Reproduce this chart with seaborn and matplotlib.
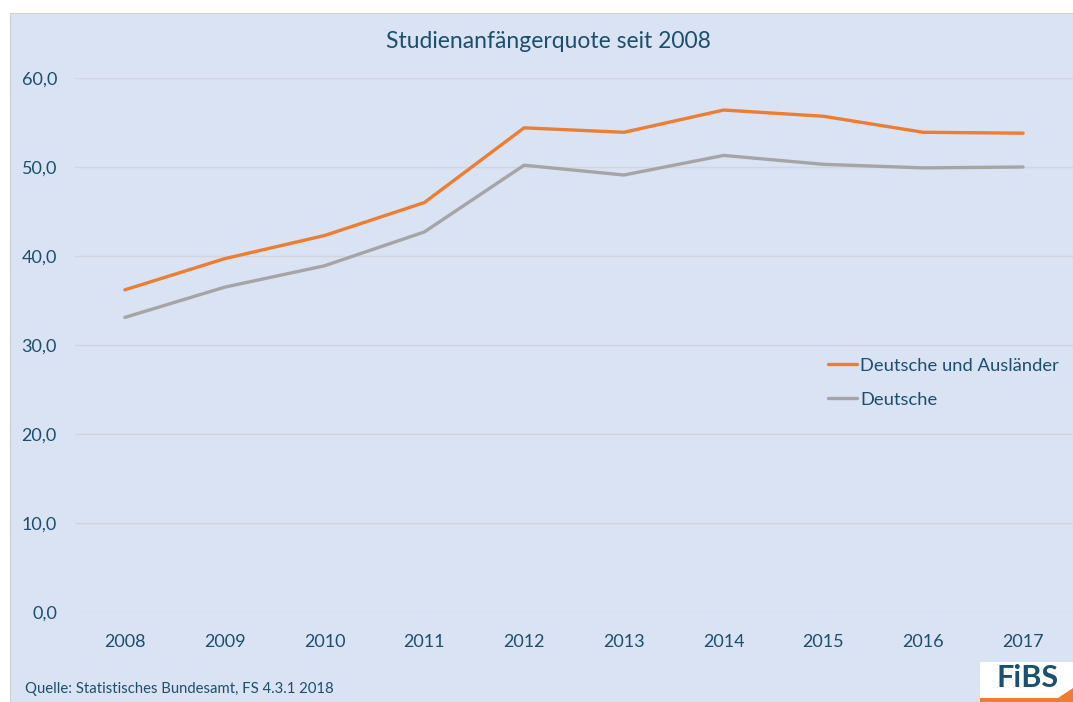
import matplotlib
matplotlib.use("Agg")
import matplotlib.pyplot as plt
import seaborn as sns
import pandas as pd
from matplotlib.ticker import FuncFormatter
from matplotlib.patches import Rectangle, Polygon

years = ["2008", "2009", "2010", "2011", "2012", "2013", "2014", "2015", "2016", "2017"]
deutsche_und_auslaender = [36.2, 39.7, 42.3, 46.0, 54.4, 53.9, 56.4, 55.7, 53.9, 53.8]
deutsche = [33.1, 36.5, 38.9, 42.7, 50.2, 49.1, 51.3, 50.3, 49.9, 50.0]
series_names = ["Deutsche und Ausländer", "Deutsche"]
yticks = [0, 10, 20, 30, 40, 50, 60]

title = "Studienanfängerquote seit 2008"
source = "Quelle: Statistisches Bundesamt, FS 4.3.1 2018"

df = pd.DataFrame({
    "Jahr": years * 2,
    "Quote": deutsche_und_auslaender + deutsche,
    "Serie": [series_names[0]] * len(years) + [series_names[1]] * len(years),
})

sns.set_theme(style="white")
plt.rcParams["font.family"] = ["Lato", "DejaVu Sans"]

text_col = "#1C4E6E"
bg_col = "#DAE3F3"

fig = plt.figure(figsize=(10.73, 7.02), dpi=100)
fig.patch.set_facecolor("white")
W, H = 1073, 702
# background panel
fig.patches.append(Rectangle((10 / W, 0), 1 - 10 / W, 1 - 13 / H, transform=fig.transFigure,
                             facecolor=bg_col, edgecolor="#D0D0D0", linewidth=0.8, zorder=-10))

ax = fig.add_axes([75 / W, (H - 612) / H, (1073 - 75) / W, (612 - 78) / H])
ax.set_facecolor("none")

sns.lineplot(data=df, x="Jahr", y="Quote", hue="Serie", palette=["#ED7D31", "#A5A5A5"],
             linewidth=2.4, sort=False, ax=ax)

ax.set_xlim(-0.5, len(years) - 0.5)
ax.set_ylim(0, 60)
ax.set_yticks(yticks)
ax.yaxis.set_major_formatter(FuncFormatter(lambda v, p: f"{v:.1f}".replace(".", ",")))
ax.grid(axis="y", color="#D2D6DC", linewidth=1)
ax.set_axisbelow(True)
for s in ax.spines.values():
    s.set_visible(False)
ax.tick_params(axis="both", length=0, colors=text_col, labelsize=13)
ax.tick_params(axis="y", pad=13)
ax.tick_params(axis="x", pad=16)
ax.set_xlabel("")
ax.set_ylabel("")

leg = ax.legend(loc="upper left", bbox_to_anchor=(0.7545, 0.4765), frameon=False,
                fontsize=13.2, handlelength=1.6, handletextpad=0.15, labelspacing=1.0,
                borderaxespad=0, borderpad=0)
for t in leg.get_texts():
    t.set_color(text_col)

fig.text(548 / W, 1 - 41 / H, title, ha="center", va="center", fontsize=16.5, color=text_col)
fig.text(25 / W, 1 - 689 / H, source, ha="left", va="center", fontsize=10.7, color=text_col)

# FiBS logo
fig.patches.append(Rectangle((980 / W, 0), 93 / W, 40 / H, transform=fig.transFigure,
                             facecolor="white", edgecolor="none", zorder=2))
fig.patches.append(Rectangle((980 / W, 0), 93 / W, 4 / H, transform=fig.transFigure,
                             facecolor="#ED7D31", edgecolor="none", zorder=3))
fig.patches.append(Polygon([(1058 / W, 4 / H), (1073 / W, 4 / H), (1073 / W, 14 / H)],
                           transform=fig.transFigure, facecolor="#ED7D31", edgecolor="none", zorder=3))
fig.text(1028 / W, 1 - 678 / H, "FiBS", ha="center", va="center", fontsize=22,
         fontweight="bold", color="#1B5070", zorder=4)

fig.savefig("out.png", dpi=100)
